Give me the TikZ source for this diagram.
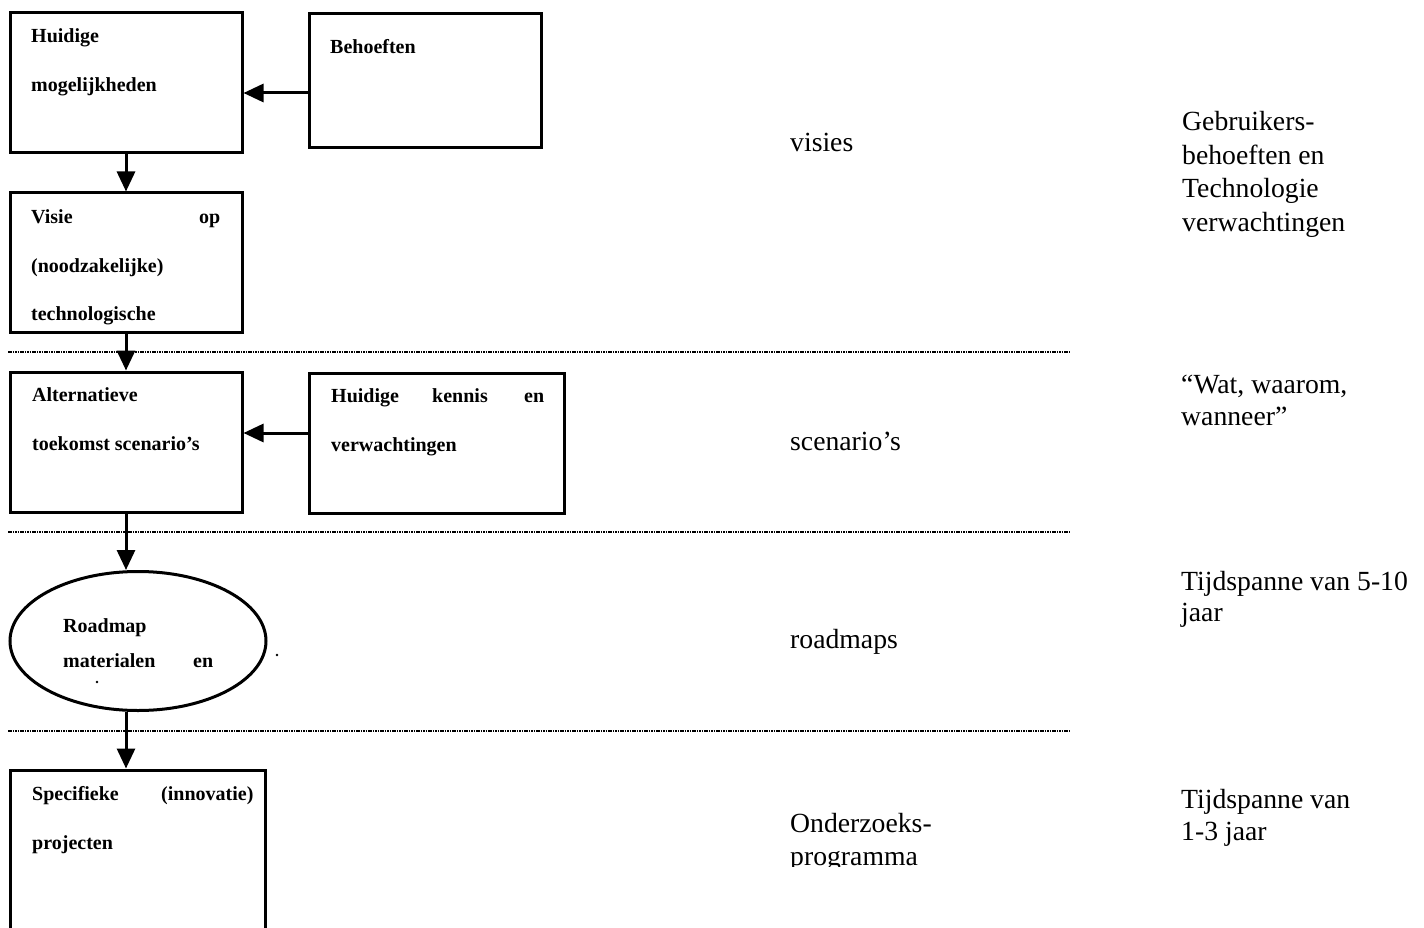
\documentclass[tikz,border=0pt]{standalone}
\usepackage{fontspec}
\setmainfont{Liberation Serif}
\usetikzlibrary{arrows.meta,shapes.geometric}
\begin{document}
\begin{tikzpicture}[x=1pt,y=-1pt,
  box/.style={draw,line width=3pt,inner sep=0pt},
  bt/.style={anchor=base west,inner sep=0pt,font=\fontsize{20}{24}\selectfont\bfseries},
  lt/.style={anchor=base west,inner sep=0pt,font=\fontsize{27.7}{32}\selectfont},
  arr/.style={line width=3pt,-{Triangle[length=20pt,width=18pt]}},
  sep/.style={line width=2pt,dash pattern=on 1.6pt off 0.8pt,black}]
\useasboundingbox[fill=white] (0,0) rectangle (1424,928);

% boxes
\node[box,minimum width=232pt,minimum height=140pt] (b1) at (126,83) {};
\node[box,minimum width=232pt,minimum height=134pt] (b2) at (425,81) {};
\node[box,minimum width=232pt,minimum height=139pt] (b3) at (126,262.5) {};
\node[box,minimum width=232pt,minimum height=140pt] (b4) at (126,442) {};
\node[box,minimum width=255pt,minimum height=140pt] (b5) at (436.5,443) {};
\node[box,ellipse,minimum width=256pt,minimum height=139pt] (ell) at (138,641) {};
\node[box,minimum width=255pt,minimum height=180pt] (b6) at (137.5,860) {};

% separators
\draw[sep] (8,352) -- (1070,352);
\draw[sep] (8,532) -- (1070,532);
\draw[sep] (8,731) -- (1070,731);

% connectors
\draw[arr] ([yshift=-12pt]b2.west) -- ([yshift=-12pt]b2.west -| b1.east);
\draw[arr] ([yshift=10pt]b5.west) -- ([yshift=10pt]b5.west -| b4.east);
\draw[arr] (b1.south) -- (b3.north);
\draw[arr] (b3.south) -- (b4.north);
\draw[arr] (b4.south) -- (b4.south |- ell.north);
\draw[arr] (b4.south |- ell.south) -- (b4.south |- b6.north);

% box texts
\node[bt] (t1a) at (31,43) {Huidige};
\node[bt] (t1b) at (31,92) {mogelijkheden};
\node[bt] (t2a) at (330,54) {Behoeften};
\node[bt] (t3a) at (31,223) {Visie};
\node[bt] (t3b) at (199,223) {op};
\node[bt] (t3c) at (31,272) {(noodzakelijke)};
\node[bt] (t3d) at (31,320) {technologische};
\node[bt] (t4a) at (32,401) {Alternatieve};
\node[bt] (t4b) at (32,450) {toekomst scenario’s};
\node[bt] (t5a) at (331,402) {Huidige};
\node[bt] (t5b) at (432,402) {kennis};
\node[bt] (t5c) at (524,402) {en};
\node[bt] (t5d) at (331,451) {verwachtingen};
\node[bt] (t6a) at (63,632) {Roadmap};
\node[bt] (t6b) at (63,667) {materialen};
\node[bt] (t6c) at (193,667) {en};
\node[bt] (t7a) at (32,800) {Specifieke};
\node[bt] (t7b) at (161,800) {(innovatie)};
\node[bt] (t7c) at (32,849) {projecten};
\fill (277,655) circle (1.3pt);
\fill (97,682) circle (1.3pt);

% middle labels
\node[lt] (l1) at (790,152) {visies};
\node[lt] (l2) at (790,450) {scenario’s};
\node[lt] (l3) at (790,648) {roadmaps};
\node[lt] (l4) at (790,832) {Onderzoeks-};
\begin{scope}
\clip (780,840) rectangle (1000,866.5);
\node[lt] (l5) at (790,865) {programma};
\end{scope}

% right labels
\node[lt] (r1) at (1182,131) {Gebruikers-};
\node[lt] (r2) at (1182,165) {behoeften en};
\node[lt] (r3) at (1182,198) {Technologie};
\node[lt] (r4) at (1182,232) {verwachtingen};
\node[lt] (r5) at (1181,393) {“Wat, waarom,};
\node[lt] (r6) at (1181,425) {wanneer”};
\node[lt] (r7) at (1181,590) {Tijdspanne van 5-10};
\node[lt] (r8) at (1181,621) {jaar};
\node[lt] (r9) at (1181,808) {Tijdspanne van};
\node[lt] (r10) at (1181,840) {1-3 jaar};
\end{tikzpicture}
\end{document}
